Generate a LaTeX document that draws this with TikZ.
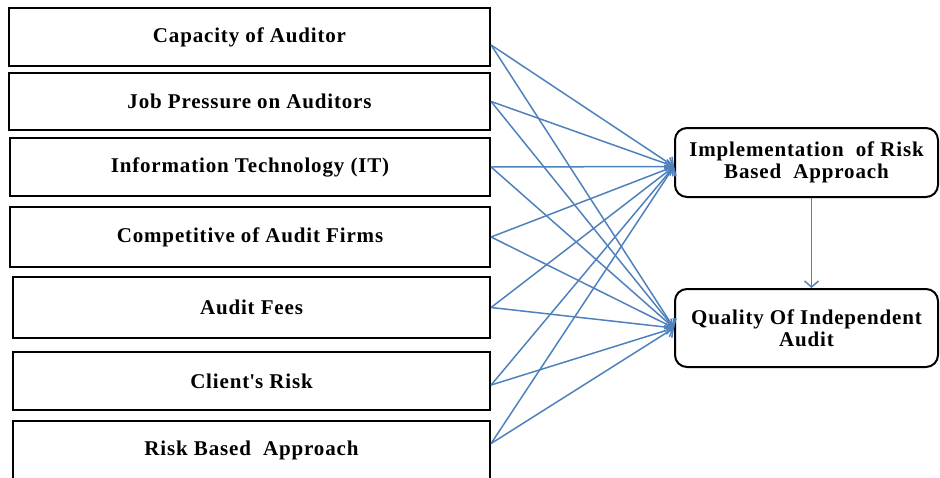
\documentclass[tikz,border=0pt]{standalone}
\usepackage{fontspec}
\setmainfont{Liberation Serif}[LetterSpace=4]
\usetikzlibrary{arrows.meta}
\definecolor{linkblue}{RGB}{79,129,189}
\tikzstyle{factor}=[shape=rectangle,draw=black,line width=2.2pt,inner sep=0pt,minimum height=58pt,font=\bfseries\fontsize{21}{22}\selectfont]
\tikzstyle{outcome}=[shape=rectangle,rounded corners=12pt,draw=black,line width=2pt,inner sep=0pt,minimum width=263pt,align=center,font=\bfseries\fontsize{21}{22}\selectfont]
\tikzstyle{linkedge}=[-{Straight Barb[length=6pt,width=14pt]},draw=linkblue,line width=1.5pt]

\begin{document}
\begin{tikzpicture}[x=1pt,y=-1pt]
 \useasboundingbox (0,0) rectangle (940,477);

 % independent variables
 \node[factor,minimum width=481pt] (b1) at (249.5,37){Capacity of Auditor};
 \node[factor,minimum width=481pt,minimum height=57pt] (b2) at (249.5,101.5){Job Pressure on Auditors};
 \node[factor,minimum width=480pt] (b3) at (250,167){Information Technology (IT)};
 \node[factor,minimum width=480pt,minimum height=60pt] (b4) at (250,237){Competitive of Audit Firms};
 \node[factor,minimum width=477pt,minimum height=61pt] (b5) at (251.5,307.5){Audit Fees};
 \node[factor,minimum width=477pt] (b6) at (251.5,381){Client\textquotesingle s Risk};
 \node[factor,minimum width=477pt,minimum height=59pt] (b7) at (251.5,450.5){Risk Based\ \ Approach};

 % mediator and outcome
 \node[outcome,minimum height=69pt] (impl) at (806.5,162.5){Implementation\ \ of Risk\\Based\ \ Approach};
 \node[outcome,minimum height=78pt] (qual) at (806.5,328){Quality Of Independent\\Audit};

\path
([yshift=-8pt]b1.east) edge [linkedge] ([yshift=-4pt]impl.west)
([yshift=-8pt]b1.east) edge [linkedge] (qual.west)

(b2.east) edge [linkedge] ([yshift=-4pt]impl.west)
(b2.east) edge [linkedge] (qual.west)

(b3.east) edge [linkedge] ([yshift=-4pt]impl.west)
(b3.east) edge [linkedge] (qual.west)

(b4.east) edge [linkedge] ([yshift=-4pt]impl.west)
(b4.east) edge [linkedge] (qual.west)

(b5.east) edge [linkedge] ([yshift=-4pt]impl.west)
(b5.east) edge [linkedge] (qual.west)

([yshift=-4pt]b6.east) edge [linkedge] ([yshift=-4pt]impl.west)
([yshift=-4pt]b6.east) edge [linkedge] (qual.west)

([yshift=7pt]b7.east) edge [linkedge] ([yshift=-4pt]impl.west)
([yshift=7pt]b7.east) edge [linkedge] (qual.west)

([xshift=5pt]impl.south) edge [linkedge] ([xshift=5pt]qual.north);

\end{tikzpicture}
\end{document}
